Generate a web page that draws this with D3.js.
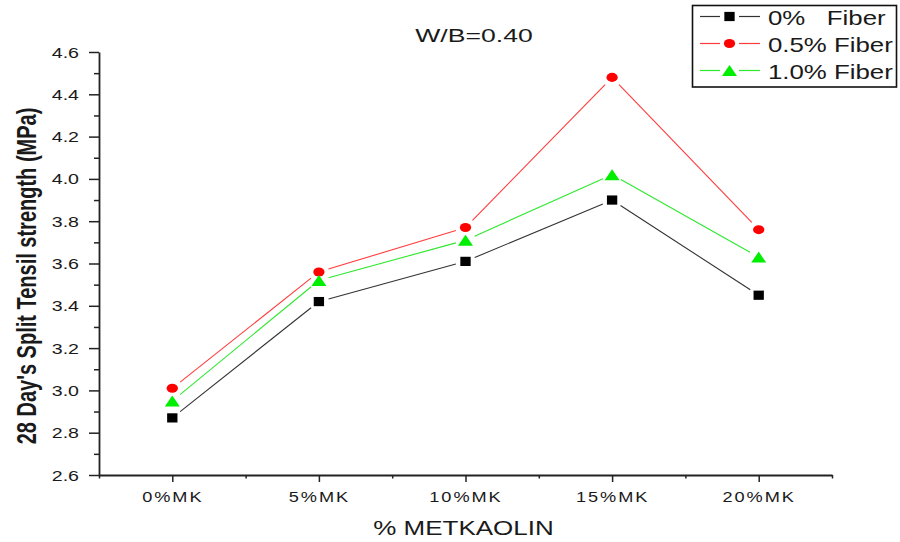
<!DOCTYPE html>
<html>
<head>
<meta charset="utf-8">
<script src="https://cdn.jsdelivr.net/npm/d3@7"></script>
<style>
body { margin: 0; background: #fff; }
svg { display: block; background: #fff; }
text { font-family: "Liberation Sans", Arial, sans-serif; fill: #1a1a1a; }
</style>
</head>
<body>
<svg id="chart" width="900" height="542"></svg>
<script>
'use strict';

// values
var categories = ['0%MK', '5%MK', '10%MK', '15%MK', '20%MK'];
var fiber00 = [2.87, 3.42, 3.61, 3.90, 3.45];
var fiber05 = [3.01, 3.56, 3.77, 4.48, 3.76];
var fiber10 = [2.95, 3.52, 3.71, 4.02, 3.63];
var seriesNames = ['0%   Fiber', '0.5% Fiber', '1.0% Fiber'];
var yTicks = [2.6, 2.8, 3.0, 3.2, 3.4, 3.6, 3.8, 4.0, 4.2, 4.4, 4.6];
var yMinorTicks = [2.7, 2.9, 3.1, 3.3, 3.5, 3.7, 3.9, 4.1, 4.3, 4.5];
var xMinorTicks = [-0.5, 0.5, 1.5, 2.5, 3.5, 4.5];

// the original picture is stretched sideways, text follows that
var SX = 1.4;

var series = [
	{name: seriesNames[0], values: fiber00, line: '#333', fill: '#000', shape: 'square'},
	{name: seriesNames[1], values: fiber05, line: '#ff3b3b', fill: '#ff0000', shape: 'circle'},
	{name: seriesNames[2], values: fiber10, line: '#2ee82e', fill: '#00ee00', shape: 'triangle'}
];

var svg = d3.select('#chart');

var x = d3.scaleLinear().domain([-0.5, 4.5]).range([99, 832]);
var y = d3.scaleLinear().domain([2.6, 4.6]).range([475, 52]);

// y axis
var yAxisG = svg.append('g')
	.attr('transform', 'translate(' + x.range()[0] + ',0)')
	.call(d3.axisLeft(y)
		.tickValues(yTicks)
		.tickSize(10)
		.tickSizeOuter(0)
		.tickFormat(d3.format('.1f')));
yAxisG.selectAll('text')
	.attr('x', null)
	.attr('dy', '0.36em')
	.attr('transform', 'translate(-20,0) scale(' + SX + ',1)')
	.attr('font-size', 14)
	.style('font-family', '"Liberation Sans", Arial, sans-serif')
	.attr('fill', '#1a1a1a');
svg.append('g')
	.attr('transform', 'translate(' + x.range()[0] + ',0)')
	.call(d3.axisLeft(y).tickValues(yMinorTicks).tickSize(5).tickFormat(''))
	.select('.domain').remove();

// x axis
var xAxisG = svg.append('g')
	.attr('transform', 'translate(0,' + y.range()[0] + ')')
	.call(d3.axisBottom(x)
		.tickValues(d3.range(categories.length))
		.tickSize(7)
		.tickSizeOuter(0)
		.tickFormat(function(i) { return categories[i]; }));
xAxisG.selectAll('text')
	.attr('y', null)
	.attr('dy', 0)
	.attr('transform', 'translate(0,26.5) scale(1.3,1)')
	.attr('font-size', 14)
	.style('letter-spacing', '1.5px')
	.style('font-family', '"Liberation Sans", Arial, sans-serif')
	.attr('fill', '#1a1a1a');
svg.append('g')
	.attr('transform', 'translate(0,' + y.range()[0] + ')')
	.call(d3.axisBottom(x).tickValues(xMinorTicks).tickSize(3.5).tickFormat(''))
	.select('.domain').remove();

svg.selectAll('.domain').attr('stroke', '#222').attr('stroke-width', 1.8);
svg.selectAll('.tick line').attr('stroke', '#222').attr('stroke-width', 1.5);

// titles
svg.append('text')
	.attr('transform', 'translate(474,41.5) scale(' + SX + ',1)')
	.attr('text-anchor', 'middle')
	.attr('font-size', 19)
	.text('W/B=0.40');

svg.append('text')
	.attr('transform', 'translate(463.5,535) scale(1.3,1)')
	.attr('text-anchor', 'middle')
	.attr('font-size', 20)
	.text('% METKAOLIN');

svg.append('text')
	.attr('transform', 'translate(36,276) scale(' + SX + ',1) rotate(-90)')
	.attr('text-anchor', 'middle')
	.attr('font-size', 20)
	.attr('font-weight', 'bold')
	.attr('fill', '#111')
	.text("28 Day's Split Tensil strength (MPa)");

// markers
function marker(shape) {
	if (shape === 'square') return d3.symbol(d3.symbolSquare, 85)();
	if (shape === 'circle') return d3.symbol(d3.symbolCircle, 64)();
	return d3.symbol(d3.symbolTriangle, 70)();
}
function markerTransform(shape, px, py) {
	if (shape === 'square') return 'translate(' + px + ',' + py + ') scale(1.12,1)';
	if (shape === 'circle') return 'translate(' + px + ',' + py + ') scale(1.25,1)';
	return 'translate(' + px + ',' + (py + 1.8) + ') scale(1.18,1)';
}

// line segments stop short of the markers, Origin style
var GAP = 10;
function shorten(p) {
	var dx = p[1][0] - p[0][0], dy = p[1][1] - p[0][1];
	var len = Math.sqrt(dx*dx + dy*dy);
	var ux = dx/len, uy = dy/len;
	return [p[0][0] + ux*GAP, p[0][1] + uy*GAP, p[1][0] - ux*GAP, p[1][1] - uy*GAP];
}

var plot = svg.append('g');
series.forEach(function(s) {
	var pts = s.values.map(function(v, i) { return [x(i), y(v)]; });
	plot.selectAll(null)
		.data(d3.pairs(pts).map(shorten))
		.enter()
		.append('line')
			.attr('x1', function(d) { return d[0]; })
			.attr('y1', function(d) { return d[1]; })
			.attr('x2', function(d) { return d[2]; })
			.attr('y2', function(d) { return d[3]; })
			.attr('stroke', s.line)
			.attr('stroke-width', 1.1);
	plot.selectAll(null)
		.data(pts)
		.enter()
		.append('path')
			.attr('d', marker(s.shape))
			.attr('transform', function(d) { return markerTransform(s.shape, d[0], d[1]); })
			.attr('fill', s.fill);
});

// legend
var legend = svg.append('g');
legend.append('rect')
	.attr('x', 692.5)
	.attr('y', 5.5)
	.attr('width', 204)
	.attr('height', 81.5)
	.attr('fill', '#fff')
	.attr('stroke', '#111')
	.attr('stroke-width', 1.6);

var rows = legend.selectAll('g.row')
	.data(series)
	.enter()
	.append('g')
		.attr('class', 'row')
		.attr('transform', function(d, i) { return 'translate(0,' + (16.5 + i*27) + ')'; });
rows.append('line')
	.attr('x1', 700).attr('x2', 720).attr('y1', 0).attr('y2', 0)
	.attr('stroke', function(d) { return d.line; })
	.attr('stroke-width', 1.2);
rows.append('line')
	.attr('x1', 739).attr('x2', 760).attr('y1', 0).attr('y2', 0)
	.attr('stroke', function(d) { return d.line; })
	.attr('stroke-width', 1.2);
rows.append('path')
	.attr('d', function(d) { return marker(d.shape); })
	.attr('transform', function(d) { return markerTransform(d.shape, 729.5, 0); })
	.attr('fill', function(d) { return d.fill; });
rows.append('text')
	.attr('transform', 'translate(768,8) scale(1.23,1)')
	.attr('font-size', 21)
	.style('white-space', 'pre')
	.text(function(d) { return d.name; });
</script>
</body>
</html>
